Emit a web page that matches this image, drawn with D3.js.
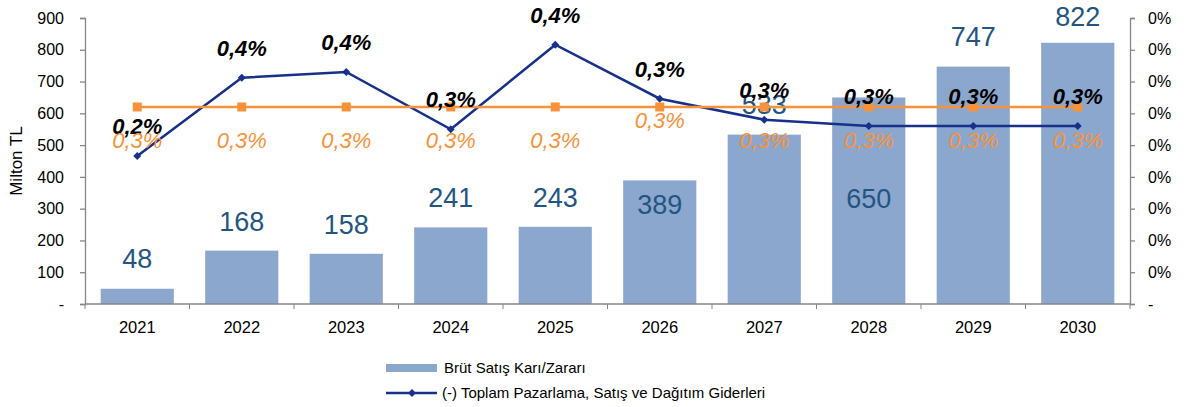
<!DOCTYPE html>
<html>
<head>
<meta charset="utf-8">
<script src="https://cdn.jsdelivr.net/npm/d3@7"></script>
<style>
  body { margin: 0; background: #fff; }
  text { font-family: "Liberation Sans", Arial, sans-serif; }
</style>
</head>
<body>
<div id="chart"></div>
<script>
// data
var years = ["2021", "2022", "2023", "2024", "2025", "2026", "2027", "2028", "2029", "2030"]
var grossProfit = [48, 168, 158, 241, 243, 389, 533, 650, 747, 822]
var marketingShare = [0.00233, 0.00356, 0.00365, 0.00275, 0.00408, 0.00323, 0.0029, 0.0028, 0.0028, 0.0028]
var otherShare = [0.0031, 0.0031, 0.0031, 0.0031, 0.0031, 0.0031, 0.0031, 0.0031, 0.0031, 0.0031]
var leftTicks = [0, 100, 200, 300, 400, 500, 600, 700, 800, 900]
var rightTicks = [0, 0.0005, 0.001, 0.0015, 0.002, 0.0025, 0.003, 0.0035, 0.004, 0.0045]
var legendNames = ["Brüt Satış Karı/Zararı", "(-) Toplam Pazarlama, Satış ve Dağıtım Giderleri"]

var width = 1184, height = 407
var margin = { top: 18, right: 54, bottom: 103, left: 85 }

var trLocale = d3.formatLocale({ decimal: ",", thousands: ".", grouping: [3], currency: ["", " TL"] })
var pct1 = trLocale.format(".1%")
var pct0 = trLocale.format(".0%")

var svg = d3.select("#chart").append("svg")
    .attr("width", width)
    .attr("height", height)

var x = d3.scaleBand()
    .domain(years)
    .range([margin.left, width - margin.right])
    .paddingInner(0.3)
    .paddingOuter(0.15)

var yL = d3.scaleLinear().domain([0, 900]).range([height - margin.bottom, margin.top])
var yR = d3.scaleLinear().domain([0, 0.0045]).range([height - margin.bottom, margin.top])

var axisColor = "#868686"
var barColor = "#8BA7CD"
var navy = "#16308B"
var orange = "#F7923A"

// bars
svg.selectAll(".bar")
    .data(grossProfit)
    .enter().append("rect")
    .attr("class", "bar")
    .attr("x", (d, i) => x(years[i]))
    .attr("width", x.bandwidth())
    .attr("y", d => yL(d))
    .attr("height", d => yL(0) - yL(d))
    .style("fill", barColor)

// left axis
var gL = svg.append("g")
    .attr("transform", "translate(" + margin.left + ",0)")
    .call(d3.axisLeft(yL).tickValues(leftTicks).tickSize(5).tickPadding(16)
        .tickFormat(d => d == 0 ? "-" : d))
gL.selectAll("text").style("font-size", "16px").attr("fill", "#000")

// right axis
var gR = svg.append("g")
    .attr("transform", "translate(" + (width - margin.right) + ",0)")
    .call(d3.axisRight(yR).tickValues(rightTicks).tickSize(5).tickPadding(13)
        .tickFormat(d => d == 0 ? "-" : pct0(d)))
gR.selectAll("text").style("font-size", "16px").attr("fill", "#000")

// bottom axis: labels centred, ticks on category borders
var gB = svg.append("g")
    .attr("transform", "translate(0," + yL(0) + ")")
    .call(d3.axisBottom(x).tickSize(0).tickPadding(17))
gB.select(".domain").remove()
gB.selectAll("text").style("font-size", "16.5px").attr("fill", "#000")

var borders = years.map(d => x(d) - x.step() * x.paddingInner() / 2)
borders.push(width - margin.right)
svg.append("g").selectAll("line")
    .data(borders)
    .enter().append("line")
    .attr("x1", d => d).attr("x2", d => d)
    .attr("y1", yL(0)).attr("y2", yL(0) + 5)
    .attr("stroke", axisColor)

svg.append("line")
    .attr("x1", margin.left).attr("x2", width - margin.right)
    .attr("y1", yL(0)).attr("y2", yL(0))
    .attr("stroke", axisColor).attr("stroke-width", 1.3)

svg.selectAll(".domain, .tick line").attr("stroke", axisColor).attr("stroke-width", 1.3)

// y axis title
svg.append("text")
    .attr("transform", "translate(22," + ((yL(0) + yL(900)) / 2) + ") rotate(-90)")
    .attr("text-anchor", "middle")
    .style("font-size", "17px")
    .text("Milton TL")

// bar value labels (some were moved by hand in the original)
var barLabelDy = [-30, -29, -30, -30, -30, 24, -30, 101, -30, -27]
svg.selectAll(".barlabel")
    .data(grossProfit)
    .enter().append("text")
    .attr("class", "barlabel")
    .attr("x", (d, i) => x(years[i]) + x.bandwidth() / 2)
    .attr("y", (d, i) => yL(d) + barLabelDy[i])
    .attr("dy", "0.36em")
    .attr("text-anchor", "middle")
    .style("font-size", "27px")
    .attr("fill", "#245582")
    .text(d => d)

var cx = (d, i) => x(years[i]) + x.bandwidth() / 2

// navy line
var line = d3.line().x(cx).y(d => yR(d))
svg.append("path")
    .datum(marketingShare)
    .attr("d", line)
    .attr("fill", "none")
    .attr("stroke", navy)
    .attr("stroke-width", 2.5)
svg.selectAll(".diamond")
    .data(marketingShare)
    .enter().append("path")
    .attr("class", "diamond")
    .attr("d", d3.symbol().type(d3.symbolDiamond2).size(40))
    .attr("transform", (d, i) => "translate(" + cx(d, i) + "," + yR(d) + ")")
    .attr("fill", navy)

// orange line
svg.append("path")
    .datum(otherShare)
    .attr("d", line)
    .attr("fill", "none")
    .attr("stroke", orange)
    .attr("stroke-width", 2.5)
svg.selectAll(".square")
    .data(otherShare)
    .enter().append("rect")
    .attr("class", "square")
    .attr("x", (d, i) => cx(d, i) - 4.5)
    .attr("y", d => yR(d) - 4.5)
    .attr("width", 9).attr("height", 9)
    .attr("fill", orange)

// navy labels
svg.selectAll(".navylabel")
    .data(marketingShare)
    .enter().append("text")
    .attr("class", "navylabel")
    .attr("x", cx)
    .attr("y", d => yR(d) - 30)
    .attr("dy", "0.36em")
    .attr("text-anchor", "middle")
    .style("font-size", "22px")
    .style("font-weight", "bold")
    .style("font-style", "italic")
    .attr("fill", "#000")
    .text(d => pct1(d))

// orange labels
var orangeDy = [33, 33, 33, 33, 33, 13, 33, 33, 33, 33]
svg.selectAll(".orangelabel")
    .data(otherShare)
    .enter().append("text")
    .attr("class", "orangelabel")
    .attr("x", cx)
    .attr("y", (d, i) => yR(d) + orangeDy[i])
    .attr("dy", "0.36em")
    .attr("text-anchor", "middle")
    .style("font-size", "22px")
    .style("font-style", "italic")
    .attr("fill", orange)
    .text(d => pct1(d))

// legend
var legend = svg.append("g").attr("transform", "translate(386,0)")
legend.append("rect")
    .attr("x", 0).attr("y", 364)
    .attr("width", 51).attr("height", 8)
    .attr("fill", barColor)
legend.append("text")
    .attr("x", 58).attr("y", 368).attr("dy", "0.36em")
    .style("font-size", "15px")
    .text(legendNames[0])
legend.append("line")
    .attr("x1", 0).attr("x2", 51)
    .attr("y1", 393).attr("y2", 393)
    .attr("stroke", navy).attr("stroke-width", 2.5)
legend.append("path")
    .attr("d", d3.symbol().type(d3.symbolDiamond2).size(40))
    .attr("transform", "translate(26,393)")
    .attr("fill", navy)
legend.append("text")
    .attr("x", 56).attr("y", 393).attr("dy", "0.36em")
    .style("font-size", "15px")
    .text(legendNames[1])
</script>
</body>
</html>
